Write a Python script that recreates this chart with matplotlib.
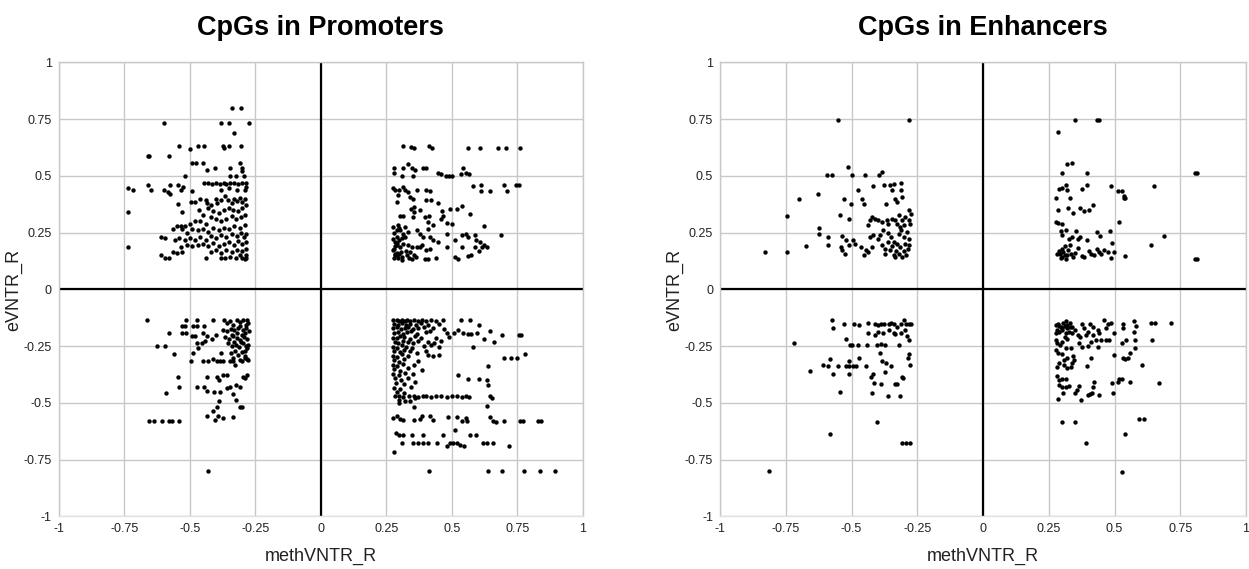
import matplotlib
matplotlib.use("Agg")
import matplotlib.pyplot as plt

plt.rcParams["font.family"] = ["Liberation Sans", "DejaVu Sans"]

# ---- data: (methVNTR_R, eVNTR_R), one list per quadrant ----
prom_upper_left = [
    (-0.34, 0.80), (-0.305, 0.80),
    (-0.60, 0.735), (-0.38, 0.735), (-0.35, 0.735), (-0.275, 0.735), (-0.33, 0.69),
    (-0.54, 0.63), (-0.50, 0.62), (-0.47, 0.63), (-0.445, 0.63), (-0.375, 0.63),
    (-0.37, 0.625), (-0.35, 0.63), (-0.305, 0.63),
    (-0.66, 0.59), (-0.655, 0.59), (-0.58, 0.59),
    (-0.49, 0.555), (-0.475, 0.555), (-0.45, 0.555), (-0.31, 0.555),
    (-0.435, 0.525), (-0.405, 0.535), (-0.345, 0.535), (-0.30, 0.535), (-0.30, 0.52),
    (-0.52, 0.50), (-0.345, 0.50), (-0.325, 0.50), (-0.295, 0.50),
    (-0.445, 0.47), (-0.43, 0.47), (-0.415, 0.465), (-0.40, 0.47), (-0.385, 0.465),
    (-0.37, 0.47), (-0.36, 0.465), (-0.345, 0.47), (-0.33, 0.47), (-0.315, 0.465),
    (-0.30, 0.47), (-0.285, 0.47),
    (-0.735, 0.445), (-0.715, 0.44), (-0.66, 0.46), (-0.65, 0.437), (-0.60, 0.44),
    (-0.585, 0.43), (-0.575, 0.46), (-0.575, 0.42), (-0.545, 0.46), (-0.535, 0.44),
    (-0.525, 0.45), (-0.49, 0.435), (-0.38, 0.44), (-0.35, 0.445), (-0.32, 0.44),
    (-0.29, 0.44), (-0.285, 0.45),
    (-0.545, 0.375), (-0.53, 0.34), (-0.495, 0.385), (-0.48, 0.385), (-0.46, 0.40),
    (-0.44, 0.395), (-0.435, 0.38), (-0.42, 0.37), (-0.40, 0.40), (-0.395, 0.38),
    (-0.38, 0.395), (-0.365, 0.41), (-0.355, 0.395), (-0.34, 0.38), (-0.33, 0.40),
    (-0.32, 0.39), (-0.31, 0.405), (-0.30, 0.385), (-0.29, 0.40), (-0.285, 0.37),
    (-0.30, 0.36), (-0.315, 0.345), (-0.335, 0.35), (-0.35, 0.36), (-0.37, 0.35),
    (-0.39, 0.335), (-0.41, 0.345), (-0.43, 0.36), (-0.45, 0.33), (-0.465, 0.35),
    (-0.29, 0.33), (-0.305, 0.32), (-0.325, 0.31), (-0.34, 0.325), (-0.36, 0.31),
    (-0.38, 0.30), (-0.40, 0.31), (-0.42, 0.32), (-0.44, 0.29), (-0.46, 0.30),
    (-0.48, 0.30), (-0.50, 0.29), (-0.52, 0.28), (-0.535, 0.28), (-0.55, 0.28),
    (-0.565, 0.265), (-0.735, 0.34),
    (-0.29, 0.285), (-0.31, 0.27), (-0.33, 0.28), (-0.35, 0.265), (-0.37, 0.27),
    (-0.39, 0.26), (-0.41, 0.27), (-0.43, 0.255), (-0.45, 0.265), (-0.47, 0.26),
    (-0.49, 0.265), (-0.51, 0.25), (-0.53, 0.265),
    (-0.285, 0.245), (-0.295, 0.23), (-0.305, 0.25), (-0.32, 0.235), (-0.34, 0.245),
    (-0.36, 0.23), (-0.38, 0.24), (-0.40, 0.225), (-0.42, 0.235), (-0.44, 0.22),
    (-0.46, 0.23), (-0.48, 0.22), (-0.50, 0.225), (-0.52, 0.22), (-0.54, 0.225),
    (-0.555, 0.22), (-0.61, 0.23), (-0.595, 0.225),
    (-0.285, 0.21), (-0.30, 0.20), (-0.315, 0.215), (-0.33, 0.195), (-0.35, 0.21),
    (-0.37, 0.20), (-0.39, 0.19), (-0.41, 0.205), (-0.43, 0.19), (-0.45, 0.20),
    (-0.47, 0.195), (-0.49, 0.19), (-0.51, 0.195), (-0.535, 0.185),
    (-0.285, 0.18), (-0.30, 0.17), (-0.32, 0.175), (-0.34, 0.165), (-0.36, 0.175),
    (-0.38, 0.16), (-0.40, 0.175), (-0.42, 0.165), (-0.53, 0.165), (-0.55, 0.16),
    (-0.565, 0.165), (-0.285, 0.15), (-0.30, 0.14), (-0.31, 0.15), (-0.325, 0.14),
    (-0.345, 0.145), (-0.365, 0.14), (-0.38, 0.14), (-0.44, 0.14), (-0.61, 0.15),
    (-0.595, 0.14), (-0.58, 0.14), (-0.735, 0.185), (-0.29, 0.135), (-0.285, 0.14),
]

prom_upper_right = [
    (0.312, 0.631), (0.343, 0.628), (0.356, 0.621), (0.414, 0.631), (0.423, 0.621),
    (0.56, 0.621), (0.607, 0.621), (0.677, 0.621), (0.707, 0.621), (0.761, 0.621),
    (0.281, 0.533), (0.281, 0.515), (0.315, 0.533), (0.334, 0.552), (0.347, 0.536),
    (0.359, 0.525), (0.391, 0.536), (0.401, 0.536), (0.309, 0.499), (0.351, 0.499),
    (0.448, 0.511), (0.459, 0.508), (0.478, 0.50), (0.49, 0.50), (0.502, 0.50),
    (0.535, 0.508), (0.544, 0.536), (0.553, 0.511), (0.567, 0.508),
    (0.581, 0.455), (0.61, 0.462), (0.613, 0.434), (0.646, 0.434), (0.70, 0.462),
    (0.712, 0.434), (0.745, 0.462), (0.755, 0.462),
    (0.277, 0.445), (0.283, 0.437), (0.30, 0.437), (0.315, 0.452), (0.321, 0.437),
    (0.334, 0.43), (0.296, 0.415), (0.34, 0.408), (0.353, 0.40), (0.368, 0.437),
    (0.401, 0.44), (0.417, 0.434), (0.40, 0.396), (0.419, 0.396), (0.448, 0.381),
    (0.292, 0.386), (0.343, 0.356), (0.356, 0.364), (0.356, 0.342), (0.378, 0.349),
    (0.493, 0.356), (0.518, 0.356), (0.538, 0.367), (0.569, 0.332), (0.461, 0.346),
    (0.465, 0.323), (0.457, 0.312), (0.302, 0.323), (0.315, 0.323), (0.351, 0.317),
    (0.398, 0.32), (0.414, 0.323), (0.41, 0.298), (0.429, 0.283), (0.48, 0.293),
    (0.502, 0.287), (0.624, 0.279),
    (0.277, 0.273), (0.296, 0.283), (0.302, 0.261), (0.315, 0.246), (0.292, 0.232),
    (0.321, 0.232), (0.334, 0.254), (0.366, 0.261), (0.378, 0.246), (0.391, 0.232),
    (0.41, 0.268), (0.417, 0.232), (0.429, 0.217),
    (0.277, 0.224), (0.283, 0.21), (0.292, 0.195), (0.302, 0.188), (0.315, 0.202),
    (0.334, 0.195), (0.347, 0.188), (0.366, 0.188), (0.385, 0.195), (0.401, 0.173),
    (0.417, 0.18), (0.277, 0.173), (0.283, 0.158), (0.292, 0.151), (0.309, 0.144),
    (0.328, 0.151), (0.347, 0.136), (0.363, 0.144), (0.378, 0.188), (0.398, 0.136),
    (0.41, 0.136), (0.438, 0.139),
    (0.448, 0.21), (0.483, 0.243), (0.511, 0.217), (0.538, 0.239), (0.554, 0.243),
    (0.563, 0.232), (0.588, 0.239), (0.591, 0.217), (0.607, 0.21), (0.616, 0.188),
    (0.623, 0.195), (0.633, 0.188), (0.602, 0.168), (0.588, 0.188), (0.538, 0.188),
    (0.483, 0.185), (0.689, 0.24), (0.512, 0.144), (0.525, 0.136), (0.56, 0.148),
    (0.572, 0.151),
    (0.28, 0.14), (0.285, 0.15), (0.29, 0.16), (0.295, 0.14), (0.30, 0.155),
    (0.305, 0.165), (0.31, 0.13), (0.28, 0.18), (0.285, 0.19), (0.29, 0.205),
    (0.30, 0.22), (0.31, 0.225), (0.28, 0.25), (0.29, 0.26), (0.30, 0.27),
    (0.32, 0.275), (0.325, 0.17), (0.335, 0.14), (0.34, 0.165), (0.355, 0.15),
]

prom_lower_left = [
    (-0.662, -0.133), (-0.515, -0.136), (-0.471, -0.136), (-0.413, -0.136),
    (-0.531, -0.159), (-0.518, -0.159), (-0.487, -0.162), (-0.471, -0.159), (-0.446, -0.162),
    (-0.58, -0.194), (-0.531, -0.191), (-0.515, -0.191), (-0.493, -0.206), (-0.48, -0.206),
    (-0.451, -0.191), (-0.436, -0.203), (-0.417, -0.218), (-0.40, -0.199),
    (-0.627, -0.247), (-0.594, -0.247), (-0.559, -0.284),
    (-0.474, -0.235), (-0.468, -0.257), (-0.455, -0.235), (-0.442, -0.228),
    (-0.487, -0.282), (-0.496, -0.313), (-0.448, -0.313), (-0.429, -0.313), (-0.41, -0.306),
    (-0.398, -0.313), (-0.385, -0.313), (-0.372, -0.313), (-0.347, -0.313), (-0.334, -0.313),
    (-0.309, -0.309), (-0.29, -0.301), (-0.277, -0.309), (-0.381, -0.279),
    (-0.545, -0.385), (-0.541, -0.43), (-0.59, -0.454),
    (-0.471, -0.429), (-0.445, -0.429), (-0.436, -0.385), (-0.398, -0.385), (-0.387, -0.397),
    (-0.375, -0.379), (-0.359, -0.379), (-0.347, -0.429), (-0.324, -0.419), (-0.309, -0.429),
    (-0.298, -0.385), (-0.29, -0.389), (-0.283, -0.379),
    (-0.436, -0.449), (-0.408, -0.452), (-0.385, -0.452), (-0.359, -0.433),
    (-0.387, -0.492), (-0.398, -0.518), (-0.41, -0.536), (-0.433, -0.558), (-0.391, -0.558),
    (-0.375, -0.567), (-0.404, -0.576), (-0.334, -0.562), (-0.309, -0.517), (-0.302, -0.517),
    (-0.324, -0.485), (-0.336, -0.46),
    (-0.655, -0.58), (-0.635, -0.58), (-0.608, -0.58), (-0.58, -0.58), (-0.569, -0.58),
    (-0.541, -0.58), (-0.429, -0.801),
    (-0.37, -0.136), (-0.357, -0.147), (-0.347, -0.14), (-0.334, -0.155), (-0.321, -0.136),
    (-0.309, -0.144), (-0.296, -0.133), (-0.283, -0.136), (-0.277, -0.147),
    (-0.375, -0.177), (-0.359, -0.184), (-0.344, -0.174), (-0.331, -0.18), (-0.315, -0.169),
    (-0.298, -0.18), (-0.286, -0.169), (-0.275, -0.184),
    (-0.366, -0.209), (-0.35, -0.218), (-0.337, -0.206), (-0.321, -0.213), (-0.309, -0.221),
    (-0.293, -0.209), (-0.28, -0.218),
    (-0.353, -0.235), (-0.34, -0.25), (-0.324, -0.243), (-0.311, -0.253), (-0.298, -0.235),
    (-0.286, -0.25), (-0.277, -0.243),
    (-0.344, -0.279), (-0.328, -0.272), (-0.315, -0.287), (-0.302, -0.276), (-0.29, -0.294),
    (-0.334, -0.301), (-0.302, -0.316), (-0.283, -0.306), (-0.328, -0.331),
    (-0.285, -0.155), (-0.29, -0.19), (-0.30, -0.20), (-0.31, -0.16), (-0.32, -0.19),
    (-0.34, -0.20), (-0.28, -0.26), (-0.29, -0.27), (-0.305, -0.23), (-0.33, -0.23),
]

prom_lower_right = [
    (0.277, -0.135), (0.29, -0.135), (0.30, -0.14), (0.31, -0.135), (0.32, -0.138),
    (0.33, -0.135), (0.34, -0.14), (0.355, -0.135), (0.37, -0.138), (0.385, -0.135),
    (0.40, -0.14), (0.42, -0.135), (0.44, -0.138), (0.465, -0.135),
    (0.535, -0.136), (0.57, -0.136), (0.604, -0.155),
    (0.28, -0.152), (0.296, -0.158), (0.311, -0.149), (0.326, -0.157), (0.342, -0.151),
    (0.362, -0.158), (0.381, -0.148), (0.41, -0.156), (0.452, -0.151),
    (0.277, -0.171), (0.289, -0.166), (0.306, -0.175), (0.322, -0.169), (0.334, -0.164),
    (0.352, -0.174), (0.371, -0.168), (0.392, -0.165), (0.43, -0.172), (0.47, -0.176),
    (0.281, -0.192), (0.296, -0.186), (0.312, -0.195), (0.329, -0.188), (0.346, -0.184),
    (0.366, -0.196), (0.402, -0.189), (0.418, -0.185), (0.48, -0.193), (0.51, -0.19),
    (0.277, -0.212), (0.291, -0.216), (0.302, -0.205), (0.318, -0.211), (0.342, -0.217),
    (0.361, -0.204), (0.383, -0.212), (0.44, -0.216), (0.488, -0.209),
    (0.282, -0.232), (0.296, -0.237), (0.313, -0.226), (0.331, -0.231), (0.352, -0.238),
    (0.371, -0.226), (0.41, -0.233), (0.432, -0.238), (0.46, -0.228),
    (0.277, -0.252), (0.29, -0.257), (0.309, -0.246), (0.327, -0.253), (0.347, -0.259),
    (0.392, -0.248), (0.421, -0.245), (0.452, -0.254),
    (0.281, -0.271), (0.302, -0.277), (0.319, -0.266), (0.341, -0.273), (0.366, -0.279),
    (0.40, -0.27),
    (0.277, -0.292), (0.291, -0.297), (0.311, -0.286), (0.334, -0.293), (0.41, -0.29),
    (0.428, -0.295), (0.452, -0.29),
    (0.28, -0.312), (0.297, -0.318), (0.318, -0.307), (0.372, -0.314),
    (0.277, -0.333), (0.292, -0.338), (0.312, -0.327), (0.355, -0.334),
    (0.28, -0.352), (0.302, -0.358), (0.331, -0.347), (0.386, -0.355),
    (0.277, -0.372), (0.297, -0.377), (0.322, -0.366), (0.352, -0.374),
    (0.282, -0.391), (0.306, -0.397), (0.334, -0.388),
    (0.286, -0.412), (0.316, -0.418), (0.36, -0.409),
    (0.28, -0.432), (0.302, -0.437), (0.346, -0.43),
    (0.29, -0.452), (0.318, -0.455),
    (0.282, -0.47), (0.30, -0.468), (0.315, -0.472), (0.335, -0.47), (0.355, -0.468),
    (0.37, -0.472), (0.39, -0.47), (0.40, -0.468), (0.42, -0.472), (0.44, -0.47),
    (0.46, -0.468), (0.48, -0.472), (0.50, -0.47), (0.52, -0.468), (0.54, -0.472),
    (0.555, -0.47), (0.565, -0.475),
    (0.30, -0.485), (0.32, -0.49), (0.34, -0.49), (0.36, -0.48), (0.30, -0.50),
    (0.525, -0.18), (0.544, -0.19), (0.563, -0.195), (0.573, -0.195), (0.595, -0.19),
    (0.624, -0.22), (0.646, -0.184), (0.66, -0.23), (0.693, -0.20), (0.755, -0.20),
    (0.765, -0.20), (0.58, -0.255), (0.70, -0.30), (0.726, -0.30), (0.75, -0.30),
    (0.78, -0.283), (0.637, -0.335), (0.522, -0.376), (0.562, -0.394), (0.604, -0.394),
    (0.636, -0.40), (0.637, -0.42), (0.645, -0.47), (0.652, -0.48), (0.636, -0.514),
    (0.356, -0.517),
    (0.277, -0.565), (0.292, -0.558), (0.302, -0.572), (0.315, -0.575), (0.356, -0.575),
    (0.378, -0.572), (0.385, -0.558), (0.417, -0.558), (0.427, -0.575), (0.484, -0.561),
    (0.521, -0.561), (0.538, -0.58), (0.554, -0.565), (0.559, -0.58), (0.646, -0.561),
    (0.659, -0.58), (0.669, -0.584), (0.70, -0.58), (0.76, -0.58), (0.77, -0.58),
    (0.83, -0.58), (0.84, -0.58),
    (0.287, -0.631), (0.30, -0.639), (0.315, -0.639), (0.35, -0.639), (0.389, -0.639),
    (0.468, -0.639), (0.512, -0.617), (0.569, -0.639), (0.592, -0.639),
    (0.309, -0.675), (0.351, -0.678), (0.372, -0.678), (0.391, -0.678), (0.408, -0.675),
    (0.442, -0.675), (0.48, -0.69), (0.493, -0.675), (0.506, -0.675), (0.518, -0.678),
    (0.531, -0.683), (0.546, -0.69), (0.618, -0.678), (0.633, -0.678), (0.658, -0.675),
    (0.72, -0.69), (0.28, -0.716),
    (0.414, -0.80), (0.638, -0.80), (0.691, -0.80), (0.774, -0.80), (0.835, -0.80),
    (0.895, -0.80),
]

enh_upper_left = [
    (-0.55, 0.747), (-0.283, 0.747), (-0.512, 0.54), (-0.595, 0.503), (-0.576, 0.503),
    (-0.497, 0.503), (-0.448, 0.503), (-0.394, 0.503), (-0.385, 0.518),
    (-0.375, 0.462), (-0.353, 0.462), (-0.338, 0.465), (-0.311, 0.467), (-0.311, 0.44),
    (-0.347, 0.44),
    (-0.70, 0.40), (-0.627, 0.42), (-0.527, 0.40), (-0.502, 0.378), (-0.474, 0.437),
    (-0.461, 0.40), (-0.452, 0.378), (-0.418, 0.456), (-0.37, 0.378), (-0.334, 0.40),
    (-0.328, 0.386), (-0.309, 0.408), (-0.283, 0.35), (-0.273, 0.334),
    (-0.744, 0.323), (-0.545, 0.33), (-0.508, 0.312),
    (-0.436, 0.283), (-0.429, 0.305), (-0.423, 0.32), (-0.41, 0.312), (-0.398, 0.305),
    (-0.385, 0.298), (-0.366, 0.305), (-0.362, 0.29), (-0.347, 0.312), (-0.334, 0.305),
    (-0.321, 0.327), (-0.309, 0.305), (-0.296, 0.32), (-0.283, 0.305), (-0.277, 0.29),
    (-0.302, 0.283), (-0.315, 0.276), (-0.328, 0.29),
    (-0.624, 0.271), (-0.624, 0.246), (-0.591, 0.232), (-0.588, 0.195), (-0.675, 0.192),
    (-0.83, 0.163), (-0.745, 0.163),
    (-0.537, 0.236), (-0.54, 0.188), (-0.537, 0.173), (-0.525, 0.158), (-0.521, 0.217),
    (-0.508, 0.195), (-0.493, 0.217), (-0.487, 0.202),
    (-0.464, 0.188), (-0.451, 0.151), (-0.445, 0.173), (-0.436, 0.166), (-0.423, 0.188),
    (-0.429, 0.232), (-0.417, 0.239), (-0.398, 0.224),
    (-0.385, 0.195), (-0.372, 0.18), (-0.372, 0.158), (-0.362, 0.21), (-0.353, 0.173),
    (-0.34, 0.151), (-0.334, 0.144), (-0.321, 0.158), (-0.309, 0.144), (-0.293, 0.151),
    (-0.315, 0.188), (-0.328, 0.202), (-0.302, 0.232), (-0.29, 0.254), (-0.283, 0.224),
    (-0.281, 0.195), (-0.296, 0.202), (-0.311, 0.261), (-0.321, 0.246),
    (-0.35, 0.23), (-0.34, 0.21), (-0.30, 0.17), (-0.285, 0.18), (-0.33, 0.17),
    (-0.345, 0.19), (-0.36, 0.25), (-0.38, 0.26), (-0.39, 0.24),
]

enh_upper_right = [
    (0.348, 0.747), (0.433, 0.747), (0.442, 0.747), (0.287, 0.693), (0.321, 0.552),
    (0.34, 0.555), (0.30, 0.514), (0.396, 0.514), (0.805, 0.512), (0.812, 0.512),
    (0.289, 0.442), (0.30, 0.449), (0.315, 0.459), (0.319, 0.44), (0.375, 0.443),
    (0.396, 0.459), (0.487, 0.456), (0.512, 0.434), (0.529, 0.434), (0.535, 0.411),
    (0.54, 0.402), (0.535, 0.405), (0.65, 0.456),
    (0.277, 0.402), (0.329, 0.404), (0.287, 0.352), (0.324, 0.358), (0.343, 0.337),
    (0.367, 0.358), (0.385, 0.346), (0.404, 0.352), (0.419, 0.371),
    (0.277, 0.295), (0.287, 0.293), (0.30, 0.29), (0.516, 0.295),
    (0.296, 0.258), (0.30, 0.239), (0.315, 0.261), (0.328, 0.224), (0.338, 0.232),
    (0.353, 0.258), (0.363, 0.224), (0.368, 0.232), (0.396, 0.22), (0.434, 0.254),
    (0.446, 0.236), (0.483, 0.258), (0.489, 0.205),
    (0.639, 0.195), (0.688, 0.235),
    (0.283, 0.155), (0.292, 0.158), (0.30, 0.144), (0.305, 0.166), (0.311, 0.151),
    (0.317, 0.133), (0.325, 0.173), (0.334, 0.158), (0.343, 0.144), (0.351, 0.162),
    (0.361, 0.182), (0.376, 0.147), (0.385, 0.141), (0.404, 0.17), (0.412, 0.158),
    (0.423, 0.151), (0.432, 0.176), (0.442, 0.163), (0.45, 0.156), (0.461, 0.173),
    (0.474, 0.163), (0.487, 0.137), (0.497, 0.163), (0.54, 0.147), (0.805, 0.134),
    (0.812, 0.134),
    (0.29, 0.17), (0.30, 0.18), (0.31, 0.19), (0.32, 0.15), (0.295, 0.14), (0.33, 0.195),
]

enh_lower_left = [
    (-0.573, -0.136), (-0.569, -0.168), (-0.527, -0.153), (-0.489, -0.153), (-0.47, -0.158),
    (-0.438, -0.148), (-0.41, -0.151), (-0.401, -0.158), (-0.387, -0.154), (-0.375, -0.151),
    (-0.359, -0.154), (-0.349, -0.148), (-0.34, -0.154), (-0.328, -0.165), (-0.311, -0.154),
    (-0.302, -0.136), (-0.293, -0.151), (-0.281, -0.151), (-0.273, -0.151),
    (-0.436, -0.194), (-0.41, -0.201), (-0.398, -0.187), (-0.379, -0.194), (-0.359, -0.177),
    (-0.34, -0.192), (-0.334, -0.197), (-0.311, -0.194), (-0.296, -0.18), (-0.29, -0.206),
    (-0.283, -0.221),
    (-0.522, -0.219), (-0.72, -0.238),
    (-0.506, -0.245), (-0.50, -0.245), (-0.474, -0.245), (-0.44, -0.245), (-0.404, -0.245),
    (-0.388, -0.242), (-0.372, -0.245), (-0.321, -0.245),
    (-0.39, -0.279), (-0.283, -0.285), (-0.285, -0.30),
    (-0.582, -0.307), (-0.51, -0.314), (-0.47, -0.304), (-0.385, -0.314), (-0.37, -0.323),
    (-0.35, -0.336), (-0.277, -0.333),
    (-0.658, -0.358), (-0.61, -0.333), (-0.59, -0.338), (-0.553, -0.338), (-0.522, -0.338),
    (-0.51, -0.338), (-0.493, -0.338), (-0.483, -0.338), (-0.445, -0.338),
    (-0.57, -0.373), (-0.51, -0.373), (-0.426, -0.385), (-0.417, -0.373), (-0.372, -0.363),
    (-0.31, -0.385), (-0.305, -0.392),
    (-0.543, -0.453), (-0.423, -0.458), (-0.414, -0.414), (-0.387, -0.418), (-0.336, -0.418),
    (-0.327, -0.418), (-0.363, -0.469), (-0.315, -0.469),
    (-0.404, -0.582), (-0.582, -0.636), (-0.31, -0.677), (-0.293, -0.677), (-0.277, -0.677),
    (-0.812, -0.801),
]

enh_lower_right = [
    (0.277, -0.158), (0.287, -0.151), (0.296, -0.165), (0.305, -0.148), (0.315, -0.139),
    (0.321, -0.158), (0.331, -0.148), (0.34, -0.165), (0.351, -0.177), (0.289, -0.187),
    (0.302, -0.18), (0.315, -0.194), (0.328, -0.187), (0.34, -0.194), (0.277, -0.194),
    (0.283, -0.177),
    (0.376, -0.151), (0.385, -0.172), (0.406, -0.154), (0.417, -0.165), (0.398, -0.187),
    (0.436, -0.18), (0.442, -0.194), (0.461, -0.136), (0.474, -0.151), (0.487, -0.148),
    (0.468, -0.168), (0.497, -0.194), (0.531, -0.154), (0.534, -0.172), (0.573, -0.139),
    (0.58, -0.162), (0.573, -0.187), (0.637, -0.146), (0.655, -0.146), (0.716, -0.146),
    (0.277, -0.224), (0.283, -0.235), (0.292, -0.246), (0.302, -0.231), (0.315, -0.26),
    (0.334, -0.26), (0.279, -0.268), (0.287, -0.279),
    (0.366, -0.238), (0.378, -0.253), (0.398, -0.25), (0.41, -0.231), (0.429, -0.221),
    (0.436, -0.253), (0.448, -0.221), (0.468, -0.224), (0.48, -0.221),
    (0.529, -0.238), (0.544, -0.221), (0.576, -0.221), (0.577, -0.257), (0.643, -0.221),
    (0.497, -0.289), (0.531, -0.30), (0.541, -0.306), (0.55, -0.30), (0.56, -0.279),
    (0.604, -0.333),
    (0.30, -0.285), (0.309, -0.311), (0.321, -0.304), (0.343, -0.294), (0.347, -0.311),
    (0.34, -0.326), (0.334, -0.341), (0.321, -0.348), (0.309, -0.333), (0.289, -0.323),
    (0.283, -0.341), (0.394, -0.338), (0.41, -0.30),
    (0.283, -0.382), (0.289, -0.399), (0.30, -0.396), (0.315, -0.396), (0.289, -0.421),
    (0.30, -0.431), (0.315, -0.428), (0.328, -0.425), (0.359, -0.443), (0.366, -0.425),
    (0.351, -0.455), (0.305, -0.458), (0.287, -0.481), (0.373, -0.487),
    (0.398, -0.465), (0.406, -0.461), (0.414, -0.455), (0.417, -0.428), (0.423, -0.406),
    (0.441, -0.465), (0.49, -0.414), (0.493, -0.455), (0.512, -0.406), (0.518, -0.396),
    (0.529, -0.396), (0.557, -0.406), (0.669, -0.412),
    (0.30, -0.582), (0.348, -0.582), (0.592, -0.572), (0.614, -0.572), (0.538, -0.636),
    (0.392, -0.677), (0.529, -0.803),
    (0.29, -0.16), (0.30, -0.17), (0.31, -0.16), (0.32, -0.17), (0.33, -0.165),
    (0.31, -0.21), (0.32, -0.22), (0.36, -0.20), (0.37, -0.21), (0.39, -0.20), (0.42, -0.20),
]

panels = [
    ("CpGs in Promoters", [prom_upper_left, prom_upper_right, prom_lower_left, prom_lower_right]),
    ("CpGs in Enhancers", [enh_upper_left, enh_upper_right, enh_lower_left, enh_lower_right]),
]

ticks = [-1, -0.75, -0.5, -0.25, 0, 0.25, 0.5, 0.75, 1]
tick_labels = ["-1", "-0.75", "-0.5", "-0.25", "0", "0.25", "0.5", "0.75", "1"]

fig = plt.figure(figsize=(12.49, 5.69), dpi=100)
axes_rects = [
    [0.0471, 0.0923, 0.4195, 0.798],
    [0.5765, 0.0923, 0.4211, 0.798],
]

for rect, (title, quadrants) in zip(axes_rects, panels):
    ax = fig.add_axes(rect)
    for quad in quadrants:
        xs = [p[0] for p in quad]
        ys = [p[1] for p in quad]
        ax.scatter(xs, ys, s=10, color="black", linewidths=0, zorder=3)

    ax.axhline(0, color="black", linewidth=1.6, zorder=2)
    ax.axvline(0, color="black", linewidth=1.6, zorder=2)

    ax.set_xlim(-1, 1)
    ax.set_ylim(-1, 1)
    ax.set_xticks(ticks)
    ax.set_yticks(ticks)
    ax.set_xticklabels(tick_labels)
    ax.set_yticklabels(tick_labels)
    ax.tick_params(length=0, labelsize=9, labelcolor="#222222", pad=5)
    ax.grid(True, color="#c8c8c8", linewidth=1.0, zorder=0)
    ax.set_axisbelow(True)
    for side in ("left", "top", "right"):
        ax.spines[side].set_color("#c8c8c8")
        ax.spines[side].set_linewidth(1.0)
    ax.spines["bottom"].set_color("#e2e2e2")
    ax.spines["bottom"].set_linewidth(1.0)

    ax.set_title(title, fontsize=19.5, fontweight="bold", pad=20)
    ax.set_xlabel("methVNTR_R", fontsize=13, labelpad=9, color="#222222")
    ax.set_ylabel("eVNTR_R", fontsize=13, color="#222222")
    # ylabel sits a bit closer to the tick labels than the default placement
    ax.yaxis.set_label_coords(-0.07, 0.5)

fig.savefig("out.png", dpi=100)
